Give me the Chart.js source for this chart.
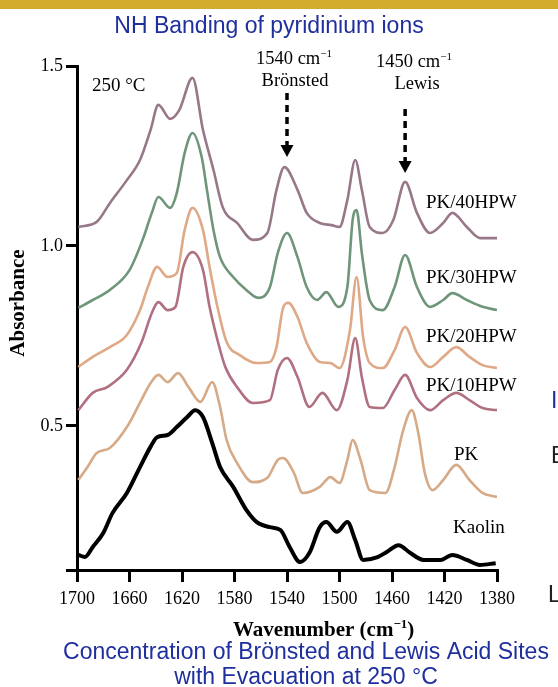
<!DOCTYPE html>
<html>
<head>
<meta charset="utf-8">
<script src="https://cdn.jsdelivr.net/npm/chart.js@4.4.1/dist/chart.umd.min.js"></script>
<style>
  html, body { margin: 0; padding: 0; background: #fff; }
  canvas { display: block; }
</style>
</head>
<body>
<canvas id="ir-chart" width="558" height="687"></canvas>
<script>
// tick labels
const xTicks = [1700, 1660, 1620, 1580, 1540, 1500, 1460, 1420, 1380];
const yTicks = [0.5, 1.0, 1.5];

const seriesNames = ['PK/40HPW', 'PK/30HPW', 'PK/20HPW', 'PK/10HPW', 'PK', 'Kaolin'];

// spectra: wavenumber (cm-1) and absorbance
const pk40Wn  = [1699, 1685, 1675, 1662, 1652, 1644, 1638, 1629, 1622, 1612, 1604, 1596, 1589, 1578, 1566, 1555, 1548, 1542, 1532, 1525, 1515, 1506, 1500, 1494, 1488, 1483, 1477, 1467, 1459, 1450, 1441, 1431, 1421, 1414, 1403, 1393, 1380];
const pk40Abs = [1.053, 1.067, 1.119, 1.183, 1.239, 1.322, 1.392, 1.353, 1.378, 1.467, 1.322, 1.211, 1.108, 1.064, 1.017, 1.036, 1.156, 1.219, 1.156, 1.092, 1.064, 1.058, 1.053, 1.128, 1.239, 1.156, 1.053, 1.036, 1.072, 1.178, 1.092, 1.036, 1.064, 1.092, 1.053, 1.022, 1.022];

const pk30Wn  = [1699, 1688, 1675, 1660, 1650, 1643, 1638, 1629, 1624, 1618, 1612, 1605, 1601, 1596, 1591, 1581, 1571, 1562, 1553, 1547, 1540, 1532, 1525, 1517, 1510, 1501, 1494, 1490, 1487, 1483, 1477, 1467, 1458, 1450, 1441, 1431, 1421, 1414, 1403, 1391, 1380];
const pk30Abs = [0.828, 0.850, 0.878, 0.933, 1.017, 1.092, 1.136, 1.106, 1.147, 1.258, 1.314, 1.247, 1.156, 1.044, 0.969, 0.914, 0.878, 0.856, 0.886, 0.981, 1.036, 0.969, 0.886, 0.850, 0.872, 0.831, 0.886, 1.072, 1.100, 0.981, 0.850, 0.822, 0.886, 0.975, 0.886, 0.831, 0.850, 0.869, 0.850, 0.831, 0.822];

const pk20Wn  = [1699, 1688, 1675, 1662, 1652, 1646, 1639, 1631, 1624, 1618, 1612, 1604, 1599, 1593, 1586, 1576, 1563, 1553, 1548, 1543, 1539, 1532, 1525, 1515, 1507, 1500, 1492, 1487, 1482, 1477, 1467, 1458, 1450, 1441, 1431, 1421, 1411, 1401, 1391, 1380];
const pk20Abs = [0.664, 0.692, 0.719, 0.753, 0.822, 0.886, 0.942, 0.914, 0.925, 1.044, 1.106, 1.044, 0.942, 0.831, 0.733, 0.697, 0.675, 0.678, 0.719, 0.828, 0.842, 0.803, 0.731, 0.678, 0.675, 0.661, 0.767, 0.914, 0.747, 0.675, 0.661, 0.711, 0.775, 0.703, 0.664, 0.692, 0.719, 0.692, 0.669, 0.661];

const pk10Wn  = [1699, 1688, 1677, 1662, 1651, 1643, 1638, 1631, 1625, 1619, 1612, 1604, 1599, 1593, 1587, 1578, 1566, 1553, 1547, 1540, 1532, 1523, 1513, 1502, 1494, 1488, 1483, 1477, 1467, 1458, 1450, 1441, 1431, 1421, 1411, 1401, 1391, 1380];
const pk10Abs = [0.544, 0.592, 0.608, 0.656, 0.731, 0.814, 0.844, 0.822, 0.831, 0.942, 0.983, 0.933, 0.831, 0.739, 0.664, 0.608, 0.564, 0.572, 0.656, 0.689, 0.636, 0.553, 0.592, 0.544, 0.628, 0.744, 0.636, 0.553, 0.550, 0.600, 0.642, 0.578, 0.544, 0.572, 0.592, 0.572, 0.550, 0.544];

const pkWn  = [1699, 1692, 1685, 1675, 1662, 1651, 1644, 1638, 1631, 1623, 1615, 1606, 1597, 1591, 1586, 1578, 1566, 1555, 1547, 1543, 1535, 1528, 1515, 1507, 1500, 1494, 1490, 1484, 1477, 1465, 1458, 1452, 1445, 1440, 1435, 1429, 1421, 1411, 1401, 1391, 1380];
const pkAbs = [0.350, 0.386, 0.425, 0.439, 0.497, 0.572, 0.619, 0.642, 0.622, 0.647, 0.608, 0.567, 0.622, 0.553, 0.461, 0.397, 0.344, 0.356, 0.406, 0.411, 0.372, 0.314, 0.331, 0.358, 0.342, 0.406, 0.461, 0.406, 0.322, 0.314, 0.386, 0.481, 0.544, 0.481, 0.369, 0.322, 0.350, 0.392, 0.350, 0.314, 0.303];

const kaolinWn  = [1699, 1694, 1688, 1680, 1673, 1662, 1652, 1644, 1639, 1631, 1624, 1616, 1610, 1604, 1597, 1591, 1581, 1571, 1563, 1553, 1545, 1538, 1530, 1523, 1515, 1510, 1502, 1494, 1488, 1482, 1471, 1464, 1455, 1446, 1436, 1423, 1414, 1403, 1393, 1381];
const kaolinAbs = [0.142, 0.136, 0.164, 0.203, 0.258, 0.314, 0.386, 0.442, 0.469, 0.475, 0.497, 0.525, 0.544, 0.525, 0.453, 0.386, 0.331, 0.267, 0.233, 0.219, 0.211, 0.164, 0.122, 0.147, 0.219, 0.233, 0.206, 0.233, 0.183, 0.128, 0.136, 0.150, 0.169, 0.147, 0.128, 0.128, 0.142, 0.128, 0.114, 0.119];

// marked bands
const bronstedBand = 1540;
const lewisBand = 1450;

const toPoints = (wn, ab) => wn.map((w, i) => ({ x: w, y: ab[i] }));

const spectra = [
    { wn: pk40Wn, ab: pk40Abs, color: '#977788', width: 2.6 },
    { wn: pk30Wn, ab: pk30Abs, color: '#6f957a', width: 2.6 },
    { wn: pk20Wn, ab: pk20Abs, color: '#dfa987', width: 2.6 },
    { wn: pk10Wn, ab: pk10Abs, color: '#b07080', width: 2.6 },
    { wn: pkWn, ab: pkAbs, color: '#d6aa86', width: 2.6 },
    { wn: kaolinWn, ab: kaolinAbs, color: '#000000', width: 4 }
];

const serif = '"Liberation Serif", "Times New Roman", serif';
const sans = '"Liberation Sans", Arial, sans-serif';
const blue = '#1f2f9e';

Chart.defaults.font.family = serif;
Chart.defaults.font.size = 18;
Chart.defaults.color = '#000';

// text with a "−1" superscript after it
function supText(ctx, main, sup, x, y, size, weight, align) {
    ctx.font = weight + ' ' + size + 'px ' + serif;
    const w1 = ctx.measureText(main).width;
    ctx.font = weight + ' ' + Math.round(size * 0.62) + 'px ' + serif;
    const w2 = ctx.measureText(sup).width;
    let x0 = x;
    if (align === 'center') x0 = x - (w1 + w2) / 2;
    ctx.textAlign = 'left';
    ctx.font = weight + ' ' + size + 'px ' + serif;
    ctx.fillText(main, x0, y);
    ctx.font = weight + ' ' + Math.round(size * 0.62) + 'px ' + serif;
    ctx.fillText(sup, x0 + w1, y - size * 0.4);
    return x0 + w1 + w2;
}

function dashedArrow(ctx, x, y0, tip) {
    ctx.save();
    ctx.strokeStyle = '#000';
    ctx.lineWidth = 3.5;
    ctx.setLineDash([7, 5]);
    ctx.beginPath();
    ctx.moveTo(x, y0);
    ctx.lineTo(x, tip - 11);
    ctx.stroke();
    ctx.setLineDash([]);
    ctx.fillStyle = '#000';
    ctx.beginPath();
    ctx.moveTo(x - 6.5, tip - 12);
    ctx.lineTo(x + 6.5, tip - 12);
    ctx.lineTo(x, tip);
    ctx.closePath();
    ctx.fill();
    ctx.restore();
}

const overlay = {
    id: 'overlay',
    beforeDraw(chart) {
        const ctx = chart.ctx;
        ctx.save();
        ctx.fillStyle = '#d3ab2c';
        ctx.fillRect(0, 0, chart.width, 9);
        ctx.restore();
    },
    afterDraw(chart) {
        const ctx = chart.ctx;
        const xs = chart.scales.x;
        ctx.save();
        ctx.textBaseline = 'alphabetic';

        // slide title and caption
        ctx.fillStyle = blue;
        ctx.font = '23px ' + sans;
        ctx.textAlign = 'center';
        ctx.fillText('NH Banding of pyridinium ions', 269, 33);
        ctx.fillText('Concentration of Brönsted and Lewis Acid Sites', 306, 659);
        ctx.fillText('with Evacuation at 250 °C', 306, 684);

        // fragments of the neighbouring slide text at the right edge
        ctx.textAlign = 'left';
        ctx.fillText('I', 551, 408);
        ctx.fillStyle = '#222';
        ctx.fillText('E', 551, 463);
        ctx.fillText('L', 548, 602);

        ctx.fillStyle = '#000';
        ctx.font = '19px ' + serif;
        ctx.fillText('250 °C', 92, 91);

        // band annotations
        supText(ctx, '1540 cm', '−1', 294, 64, 18.5, 'normal', 'center');
        ctx.font = '18.5px ' + serif;
        ctx.textAlign = 'center';
        ctx.fillText('Brönsted', 295, 86);
        supText(ctx, '1450 cm', '−1', 414, 67, 18.5, 'normal', 'center');
        ctx.font = '18.5px ' + serif;
        ctx.textAlign = 'center';
        ctx.fillText('Lewis', 417, 89);

        dashedArrow(ctx, xs.getPixelForValue(bronstedBand), 93, 157);
        dashedArrow(ctx, xs.getPixelForValue(lewisBand), 109, 173);

        // series names
        const labelPos = [[426, 208], [426, 283], [426, 342], [426, 391], [454, 460], [453, 533]];
        ctx.font = '19px ' + serif;
        ctx.textAlign = 'left';
        seriesNames.forEach((name, i) => ctx.fillText(name, labelPos[i][0], labelPos[i][1]));

        // axis titles
        const end = supText(ctx, 'Wavenumber (cm', '−1', 233, 636, 21, 'bold', 'left');
        ctx.font = 'bold 21px ' + serif;
        ctx.fillText(')', end, 636);

        ctx.translate(24, 303);
        ctx.rotate(-Math.PI / 2);
        ctx.textAlign = 'center';
        ctx.fillText('Absorbance', 0, 0);
        ctx.restore();
    }
};

const tickFont = { family: serif, size: 18 };

const ctx = document.getElementById('ir-chart').getContext('2d');
new Chart(ctx, {
    type: 'line',
    data: {
        datasets: spectra.map((s, i) => ({
            label: seriesNames[i],
            data: toPoints(s.wn, s.ab),
            borderColor: s.color,
            borderWidth: s.width,
            pointRadius: 0,
            fill: false,
            cubicInterpolationMode: 'monotone'
        }))
    },
    options: {
        responsive: false,
        animation: false,
        layout: { padding: { top: 66, right: 61, bottom: 0, left: 0 } },
        plugins: { legend: { display: false }, tooltip: { enabled: false } },
        scales: {
            x: {
                type: 'linear',
                reverse: true,
                min: 1380,
                max: 1700,
                afterBuildTicks: (scale) => { scale.ticks = xTicks.map(v => ({ value: v })); },
                afterFit: (scale) => { scale.height = 117; },
                border: { color: '#000', width: 3 },
                grid: { drawOnChartArea: false, color: '#000', lineWidth: 3, tickLength: 12 },
                ticks: {
                    color: '#000',
                    padding: 6,
                    maxRotation: 0,
                    font: tickFont,
                    callback: (v) => String(v)
                }
            },
            y: {
                min: 0.1,
                max: 1.5,
                afterBuildTicks: (scale) => { scale.ticks = [0.1].concat(yTicks).map(v => ({ value: v })); },
                afterFit: (scale) => { scale.width = 77; },
                border: { color: '#000', width: 3 },
                grid: { drawOnChartArea: false, color: '#000', lineWidth: 3, tickLength: 11 },
                ticks: {
                    color: '#000',
                    padding: 3,
                    font: tickFont,
                    callback: (v) => yTicks.includes(v) ? v.toFixed(1) : ''
                }
            }
        }
    },
    plugins: [overlay]
});
</script>
</body>
</html>
